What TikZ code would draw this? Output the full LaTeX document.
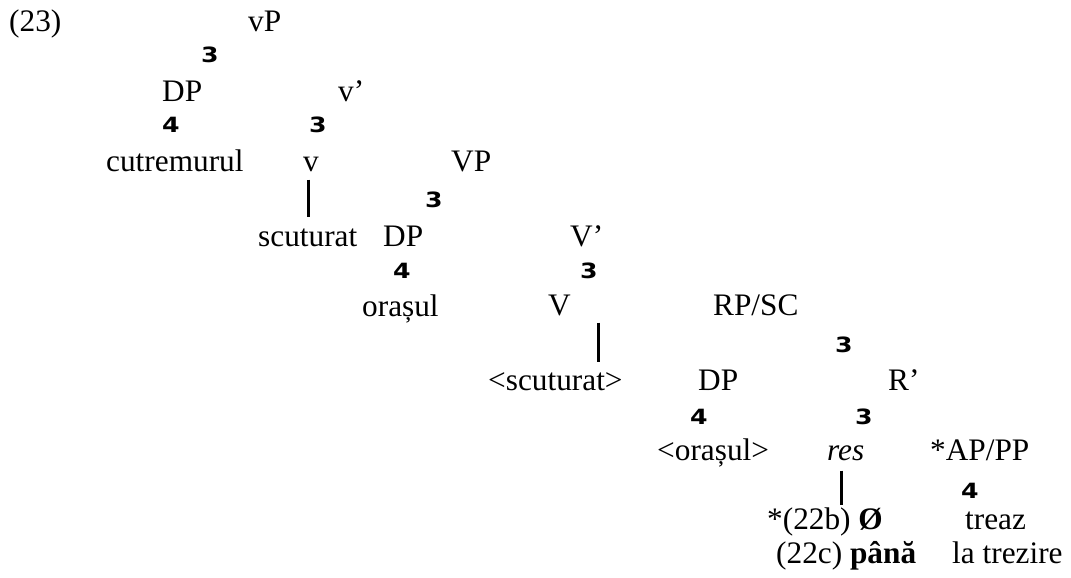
\documentclass[tikz,border=0pt]{standalone}
\usepackage{fontspec}
\usepackage{graphicx}
\setmainfont{Liberation Serif}
\newfontfamily\branchfont{DejaVu Sans}
\usetikzlibrary{calc}
\tikzset{
  lbl/.style={anchor=base west, inner sep=0pt, font=\fontsize{31.3}{36}\selectfont},
  br/.style={anchor=base west, inner sep=0pt, font=\branchfont\bfseries\fontsize{21}{21}\selectfont},
  bar/.style={line width=3pt},
}
\newcommand{\brglyph}[1]{\scalebox{1.2}[1]{#1}}
\begin{document}
\begin{tikzpicture}[x=1pt,y=-1pt]
\useasboundingbox (0,0) rectangle (1071,578);
% row 1
\node[lbl] (ex) at (9,32) {(23)};
\node[lbl] (vP) at (248,32) {vP};
\node[br] (b1) at (201,63) {\brglyph{3}};
% row 2
\node[lbl] (DP1) at (162,102) {DP};
\node[lbl] (vbar) at (338,102) {v’};
\node[br] (b2) at (162,132) {\brglyph{4}};
\node[br] (b3) at (309,132) {\brglyph{3}};
% row 3
\node[lbl] (cut) at (106,171) {cutremurul};
\node[lbl] (v) at (303,171) {v};
\node[lbl] (VP) at (451,171) {VP};
\node[br] (b4) at (425,207) {\brglyph{3}};
% row 4
\node[lbl] (sct) at (258,246) {scuturat};
\node[lbl] (DP2) at (383,246) {DP};
\node[lbl] (Vbar) at (570,246) {V’};
\node[br] (b5) at (393,278) {\brglyph{4}};
\node[br] (b6) at (580,278) {\brglyph{3}};
% row 5
\node[lbl] (oras) at (362,316) {orașul};
\node[lbl] (V) at (548,315) {V};
\node[lbl] (RP) at (713,315) {RP/SC};
\node[br] (b7) at (835,352) {\brglyph{3}};
% row 6
\node[lbl] (sct2) at (488,390) {<scuturat>};
\node[lbl] (DP3) at (698,390) {DP};
\node[lbl] (Rbar) at (888,390) {R’};
\node[br] (b8) at (690,424) {\brglyph{4}};
\node[br] (b9) at (855,424) {\brglyph{3}};
% row 7
\node[lbl] (oras2) at (657,460) {<orașul>};
\node[lbl] (res) at (827,460) {\itshape res};
\node[lbl] (APPP) at (930,460) {*AP/PP};
\node[br] (b10) at (961,498) {\brglyph{4}};
% rows 8-9
\node[lbl] (z22b) at (767,529) {*(22b) \textbf{Ø}};
\node[lbl] (treaz) at (965,529) {treaz};
\node[lbl] (z22c) at (776,563) {(22c) \textbf{până}};
\node[lbl] (latr) at (952,563) {la trezire};
% vertical bars
\draw[bar] ($(v.south)+(-3,8)$) -- ($(v.south |- sct.base)+(-3,-29)$);
\draw[bar] ($(V.south)+(39,7)$) -- ($(V.south |- sct2.base)+(39,-28)$);
\draw[bar] ($(res.south)+(-4,10)$) -- ($(res.south |- z22b.base)+(-4,-24)$);
\end{tikzpicture}
\end{document}
